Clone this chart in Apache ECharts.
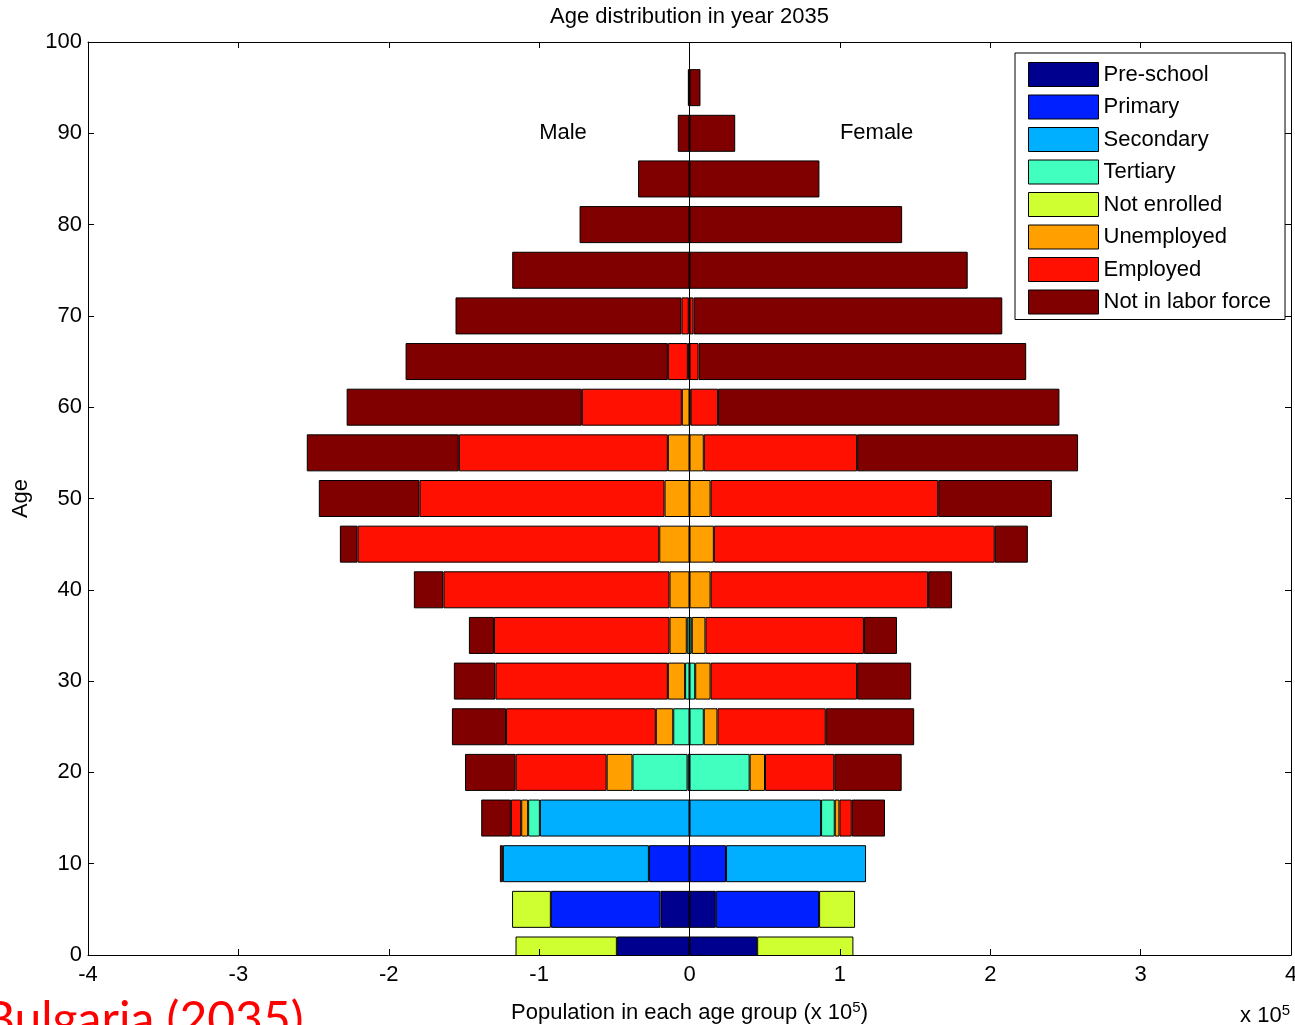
<!DOCTYPE html>
<html><head><meta charset="utf-8">
<script src="https://cdn.jsdelivr.net/npm/echarts@6/dist/echarts.min.js"></script>
<style>html,body{margin:0;padding:0;background:#fff}#c{width:1295px;height:1025px}</style>
</head><body><div id="c"></div>
<script>
// Age groups (bar positions) and y tick categories
const ageCategories = ['0','5','10','15','20','25','30','35','40','45','50','55','60','65','70','75','80','85','90','95','100'];
const categories = ['Pre-school','Primary','Secondary','Tertiary','Not enrolled','Unemployed','Employed','Not in labor force'];
const xTicks = [-4,-3,-2,-1,0,1,2,3,4];

// Male values (x 10^5), one per age group 0..95
const malePreschool   = [0.483,0.193,0,0,0,0,0,0,0,0,0,0,0,0,0,0,0,0,0,0];
const malePrimary     = [0,0.729,0.27,0,0,0,0,0,0,0,0,0,0,0,0,0,0,0,0,0];
const maleSecondary   = [0,0,0.971,0.995,0.013,0,0,0,0,0,0,0,0,0,0,0,0,0,0,0];
const maleTertiary    = [0,0,0,0.078,0.366,0.108,0.029,0.018,0,0,0,0,0,0,0,0,0,0,0,0];
const maleNotEnrolled = [0.674,0.258,0,0,0,0,0,0,0,0,0,0,0,0,0,0,0,0,0,0];
const maleUnemployed  = [0,0,0,0.046,0.172,0.116,0.115,0.115,0.133,0.201,0.166,0.144,0.051,0.011,0.005,0,0,0,0,0];
const maleEmployed    = [0,0,0,0.069,0.605,0.996,1.146,1.167,1.503,2.006,1.629,1.39,0.665,0.133,0.048,0,0,0,0,0];
const maleNotInLF     = [0,0,0.02,0.197,0.337,0.36,0.277,0.167,0.197,0.118,0.67,1.011,1.564,1.744,1.503,1.179,0.731,0.342,0.078,0.011];

// Female values (x 10^5)
const femalePreschool   = [0.45,0.175,0,0,0,0,0,0,0,0,0,0,0,0,0,0,0,0,0,0];
const femalePrimary     = [0,0.687,0.243,0,0,0,0,0,0,0,0,0,0,0,0,0,0,0,0,0];
const femaleSecondary   = [0,0,0.931,0.875,0,0,0,0,0,0,0,0,0,0,0,0,0,0,0,0];
const femaleTertiary    = [0,0,0,0.091,0.40,0.095,0.038,0.015,0,0,0,0,0,0,0,0,0,0,0,0];
const femaleNotEnrolled = [0.64,0.239,0,0,0,0,0,0,0,0,0,0,0,0,0,0,0,0,0,0];
const femaleUnemployed  = [0,0,0,0.031,0.102,0.091,0.102,0.091,0.14,0.162,0.14,0.095,0.007,0,0,0,0,0,0,0];
const femaleEmployed    = [0,0,0,0.082,0.461,0.72,0.975,1.054,1.447,1.868,1.514,1.02,0.183,0.06,0.027,0,0,0,0,0];
const femaleNotInLF     = [0,0,0,0.221,0.448,0.588,0.359,0.22,0.159,0.22,0.756,1.469,2.27,2.179,2.053,1.85,1.414,0.864,0.304,0.073];

const colors = ['#00008f','#0020ff','#00afff','#40ffbf','#cfff30','#ff9f00','#ff1000','#800000'];

const maleData = [malePreschool,malePrimary,maleSecondary,maleTertiary,maleNotEnrolled,maleUnemployed,maleEmployed,maleNotInLF];
const femaleData = [femalePreschool,femalePrimary,femaleSecondary,femaleTertiary,femaleNotEnrolled,femaleUnemployed,femaleEmployed,femaleNotInLF];

const FONT = '"Liberation Sans", Arial, sans-serif';
const series = [];
categories.forEach((name, k) => {
  const style = {color: colors[k], borderColor: '#000', borderWidth: 1};
  series.push({name, type:'bar', stack:'pop', barWidth: 37, itemStyle: style, clip:true,
    data: maleData[k].map(v => v ? -v : '-'), animation:false});
  series.push({name, type:'bar', stack:'pop', barWidth: 37, itemStyle: style, clip:true,
    data: femaleData[k].map(v => v ? v : '-'), animation:false});
});
series[series.length-1].markLine = {
  silent:true, symbol:'none', animation:false, label:{show:false},
  lineStyle:{color:'#000', width:1, type:'solid'}, data:[{xAxis:0}]
};

const axisCommon = {
  axisLine:{show:true, onZero:false, lineStyle:{color:'#000', width:1}},
  axisTick:{show:true, inside:true, length:6, lineStyle:{color:'#000'}},
  splitLine:{show:false}
};

const GRID = {left:88, right:4, top:42, bottom:70};
const chart = echarts.init(document.getElementById('c'));
chart.setOption({
  animation:false,
  backgroundColor:'#fff',
  grid:Object.assign({containLabel:false, outerBoundsMode:'none'}, GRID),
  legend:{
    data: categories, orient:'vertical', left:1015, top:53, icon:'rect',
    itemWidth:70, itemHeight:24, itemGap:7.5,
    padding:[9,14,5,13], borderColor:'#000', borderWidth:1, backgroundColor:'#fff',
    itemStyle:{borderColor:'#000', borderWidth:1},
    textStyle:{fontSize:22, color:'#000', fontFamily:FONT},
    selectedMode:false
  },
  xAxis:[
    Object.assign({type:'value', min:-4, max:4, interval:1, position:'bottom', z:5,
      axisLabel:{fontSize:22, color:'#000', fontFamily:FONT, margin:9},
      name:'Population in each age group (x 10{sup|5})', nameLocation:'middle', nameGap:45,
      nameTextStyle:{fontSize:22, color:'#000', fontFamily:FONT,
        rich:{sup:{fontSize:15, color:'#000', fontFamily:FONT, verticalAlign:'top', padding:[0,0,10,0]}}}
    }, axisCommon),
    Object.assign({type:'value', min:-4, max:4, interval:1, position:'top',
      axisLabel:{show:false}}, axisCommon)
  ],
  yAxis:[
    Object.assign({type:'category', data: ageCategories, boundaryGap:false, position:'left', z:5,
      axisLabel:{fontSize:22, color:'#000', fontFamily:FONT, margin:6, interval:1},
      name:'Age', nameLocation:'middle', nameRotate:90, nameGap:56,
      nameTextStyle:{fontSize:22, color:'#000', fontFamily:FONT}
    }, axisCommon, {axisTick:{show:true, inside:true, length:6, interval:1, lineStyle:{color:'#000'}}}),
    Object.assign({type:'category', data: ageCategories, boundaryGap:false, position:'right',
      axisLabel:{show:false}}, axisCommon, {axisTick:{show:true, inside:true, length:6, interval:1, lineStyle:{color:'#000'}}})
  ],
  series
});

const pM = chart.convertToPixel({xAxisIndex:0, yAxisIndex:0}, [-1, '90']);
const pF = chart.convertToPixel({xAxisIndex:0, yAxisIndex:0}, [1, '90']);
const bottomY = chart.convertToPixel({yAxisIndex:0}, '0');
const W = chart.getWidth(), H = chart.getHeight();
chart.setOption({
  graphic:[
    // white mask: keeps the lowest bar inside the plot box (below age 0 nothing is drawn)
    {type:'rect', z:3, silent:true, shape:{x:GRID.left + 1, y:bottomY + 0.5, width:W - GRID.left - GRID.right - 2, height:H - bottomY}, style:{fill:'#fff'}},
    {type:'text', z:6, x:GRID.left + (W - GRID.left - GRID.right)/2, y:17, style:{text:'Age distribution in year 2035', fontSize:22, fontFamily:FONT, fill:'#000', align:'center', verticalAlign:'middle'}},
    {type:'text', z:6, x:pM[0], y:pM[1], style:{text:'Male', fontSize:22, fontFamily:FONT, fill:'#000', align:'left', verticalAlign:'middle'}},
    {type:'text', z:6, x:pF[0], y:pF[1], style:{text:'Female', fontSize:22, fontFamily:FONT, fill:'#000', align:'left', verticalAlign:'middle'}},
    {type:'text', z:6, x:1290, y:1016, style:{text:'x 10{sup|5}', fontSize:22, fontFamily:FONT, fill:'#000', align:'right', verticalAlign:'middle',
      rich:{sup:{fontSize:15, fontFamily:FONT, fill:'#000', verticalAlign:'top', padding:[0,0,10,0]}}}},
    {type:'text', z:6, x:-16, y:997, style:{text:'Bulgaria (2035)', fontSize:48, fontFamily:'Lato, "Open Sans", sans-serif', fill:'#ff0000', align:'left', verticalAlign:'top'}}
  ]
});
</script></body></html>
